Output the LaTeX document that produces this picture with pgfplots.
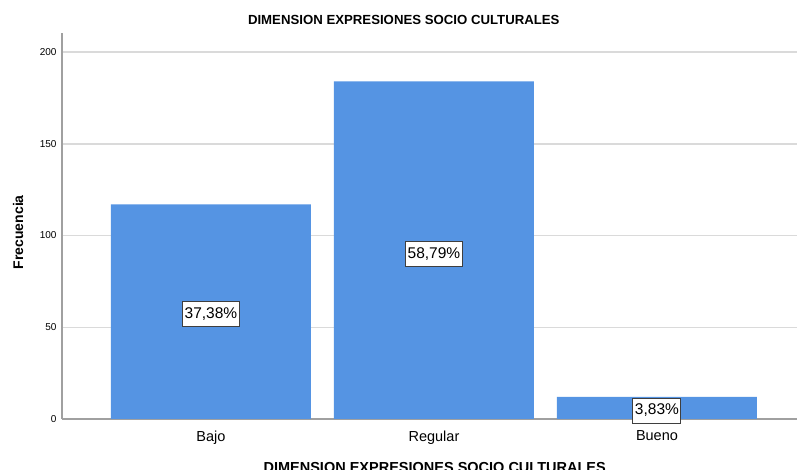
\documentclass[border=0pt]{standalone}
\usepackage{fontspec}
\setmainfont{Liberation Sans}
\usepackage{pgfplots}
\pgfplotsset{compat=1.18}
\definecolor{barblue}{HTML}{5594E3}
\definecolor{gridgray}{HTML}{DADADA}
\definecolor{axisgray}{HTML}{A0A0A0}
\definecolor{boxborder}{HTML}{3F3F3F}
\begin{document}
\begin{tikzpicture}
\useasboundingbox (-62pt,-51pt) rectangle (735pt,419pt);
\begin{axis}[
  at={(0,0)}, anchor=south west,
  scale only axis, width=735pt, height=386pt,
  xmin=-0.668, xmax=2.628, ymin=0, ymax=210.4,
  clip=false,
  axis x line=bottom, axis y line=left,
  axis line style={draw=axisgray, line width=1.5pt, -},
  xtick={0,1,2}, xticklabels={Bajo,Regular,Bueno},
  ytick={0,50,100,150,200},
  major tick length=0pt,
  ymajorgrids, grid style={gridgray, line width=1.5pt},
  /pgf/number format/assume math mode=true,
  xticklabel style={font=\fontsize{14.5}{16}\selectfont, yshift=-8pt},
  yticklabel style={font=\fontsize{10}{12}\selectfont, xshift=-2pt},
  every axis title/.style={at={(axis description cs:0.465,1)}, yshift=13pt, anchor=center, font=\bfseries\fontsize{13.2}{15}\selectfont},
  title={DIMENSION EXPRESIONES SOCIO CULTURALES},
  every axis x label/.style={at={(axis description cs:0.507,0)}, yshift=-49pt, anchor=center, font=\bfseries\fontsize{14.5}{16}\selectfont},
  xlabel={DIMENSION EXPRESIONES SOCIO CULTURALES},
  every axis y label/.style={at={(axis description cs:0,0.484)}, xshift=-44pt, rotate=90, anchor=center, font=\bfseries\fontsize{14}{16}\selectfont},
  ylabel={Frecuencia},
]
\addplot[ybar, bar width=200pt, fill=barblue, draw=none] coordinates {(0,117) (1,184) (2,12)};
\addplot[draw=none, mark=none, nodes near coords, point meta=explicit symbolic,
  nodes near coords align=center,
  every node near coord/.style={fill=white, draw=boxborder, line width=1pt, inner xsep=2pt, inner ysep=0pt, minimum height=25pt, font=\fontsize{15.5}{18}\selectfont, text=black}]
  coordinates {(0,57.2) [{37,38\%}] (1,89.9) [{58,79\%}] (2,4.6) [{3,83\%}]};
\end{axis}
\end{tikzpicture}
\end{document}
